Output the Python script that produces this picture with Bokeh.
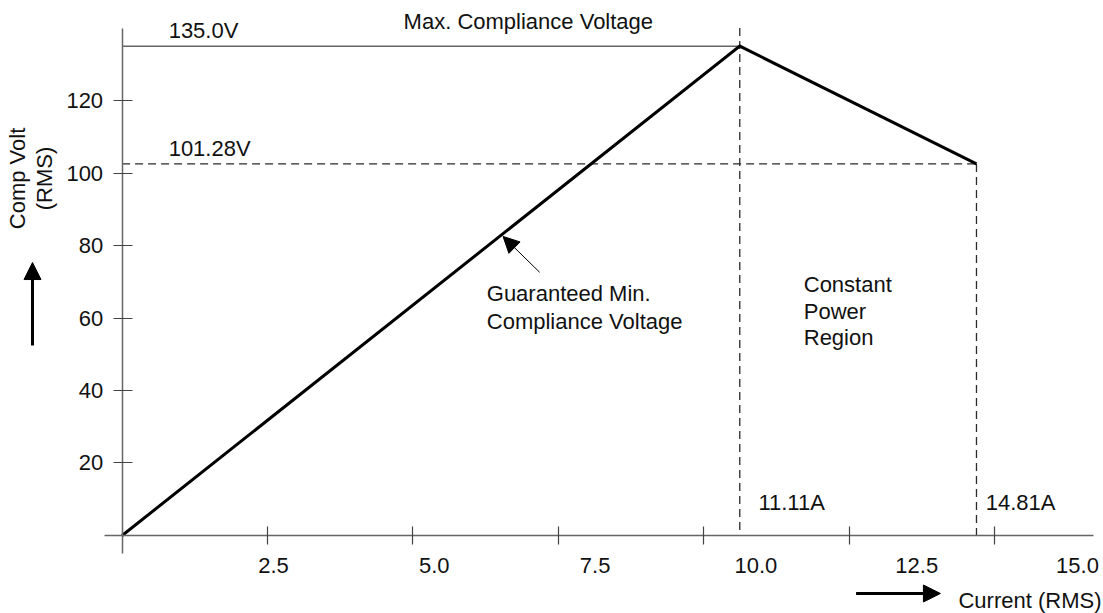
import math
from bokeh.plotting import figure
from bokeh.models import (LinearAxis, FixedTicker, Range1d,
                          CustomJSTickFormatter, Arrow, NormalHead)
from bokeh.core.properties import value
from bokeh.embed import file_html
from bokeh.resources import INLINE

# ---- data (in axis units) ----
current = [0.0, 10.62, 14.69]        # Current (RMS), as drawn
voltage = [0.0, 135.0, 102.5]        # Comp Volt (RMS), as drawn
x_ticks = [2.5, 5.0, 7.5, 10.0, 12.5, 15.0]
y_ticks = [20, 40, 60, 80, 100, 120]
v_max_label = "135.0V"
v_end_label = "101.28V"
i_peak_label = "11.11A"
i_end_label = "14.81A"
y_axis_top = 140.0

FONT = "Liberation Sans"
FS = "22px"
AX = "#666666"
DASH_C = "#2a2a2a"
TXT = "#111111"

p = figure(width=1103, height=613, output_backend="svg", toolbar_location=None,
           x_axis_type=None, y_axis_type=None, min_border=0,
           x_range=Range1d(-2.091, 16.874), y_range=Range1d(-21.52, 147.59))
p.title.visible = False
p.outline_line_color = None
p.background_fill_color = "white"
p.border_fill_color = "white"

# y axis (at x = 0)
yax = LinearAxis(fixed_location=0, ticker=FixedTicker(ticks=y_ticks), bounds=(-5, y_axis_top),
                 axis_line_color=AX, axis_line_width=1.5,
                 major_tick_line_color="#444444", major_tick_line_width=1.2,
                 major_tick_in=10, major_tick_out=9, minor_tick_line_color=None,
                 major_label_text_font=FONT, major_label_text_font_size=FS,
                 major_label_text_color=TXT, major_label_standoff=10)
p.add_layout(yax, "left")

# x axis tick marks (at y = 0)
xax = LinearAxis(fixed_location=0, ticker=FixedTicker(ticks=x_ticks), bounds=(-0.303, 16.70),
                 formatter=CustomJSTickFormatter(code="return ''"),
                 axis_line_color=AX, axis_line_width=1.5,
                 major_tick_line_color="#444444", major_tick_line_width=1.2,
                 major_tick_in=9, major_tick_out=9, minor_tick_line_color=None)
p.add_layout(xax, "below")

# x tick labels (spaced a little wider than the tick marks, as in the drawing)
p.extra_x_ranges = {"lbl": Range1d(-1.744, 15.404)}
xlab = LinearAxis(x_range_name="lbl", fixed_location=0, ticker=FixedTicker(ticks=x_ticks),
                  formatter=CustomJSTickFormatter(code="return tick.toFixed(1)"),
                  axis_line_color=None, major_tick_line_color=None,
                  major_tick_in=0, major_tick_out=0, minor_tick_line_color=None,
                  major_label_text_font=FONT, major_label_text_font_size=FS,
                  major_label_text_color=TXT, major_label_standoff=23)
p.add_layout(xlab, "below")

peak_i, peak_v = current[1], voltage[1]
end_i, end_v = current[2], voltage[2]

# reference lines
p.line([0, peak_i], [peak_v, peak_v], line_color=AX, line_width=1.5)
p.line([0, end_i], [end_v, end_v], line_color=DASH_C, line_width=1.3, line_dash="8 5")
p.line([peak_i, peak_i], [y_axis_top, 0], line_color=DASH_C, line_width=1.3, line_dash="8 5")
p.line([end_i, end_i], [end_v, 0], line_color=DASH_C, line_width=1.3, line_dash="8 5")

# the curve
p.line(current, voltage, line_color="black", line_width=3, line_join="miter")

# texts
common = dict(text_font=value(FONT), text_font_size=FS, text_color=TXT)
p.text(x=[4.84], y=[141.9], text=["Max. Compliance Voltage"],
       text_align="left", text_baseline="alphabetic", **common)
p.text(x=[0.80, 0.80], y=[139.3, 106.8], text=[v_max_label, v_end_label],
       text_align="left", text_baseline="alphabetic", **common)
p.text(x=[10.94, 14.85], y=[9.2, 9.2], text=[i_peak_label, i_end_label],
       text_align="left", text_baseline="alphabetic", **common)
p.text(x=[6.27], y=[70.3], text=["Guaranteed Min.\nCompliance Voltage"],
       text_align="left", text_baseline="top", text_line_height=1.12, **common)
p.text(x=[11.72], y=[72.6], text=["Constant\nPower\nRegion"],
       text_align="left", text_baseline="top", text_line_height=1.05, **common)
p.text(x=[-1.566], y=[98.5], text=["Comp Volt\n(RMS)"], angle=[math.pi / 2],
       text_align="center", text_baseline="middle", text_line_height=1.05, **common)
p.text(x=[14.38], y=[-17.9], text=["Current (RMS)"],
       text_align="left", text_baseline="alphabetic", **common)

# arrows
p.add_layout(Arrow(end=NormalHead(size=17, fill_color="black", line_color="black", line_width=1),
                   x_start=-1.541, y_start=52.4, x_end=-1.541, y_end=75.3,
                   line_width=3, line_color="black"))
p.add_layout(Arrow(end=NormalHead(size=17, fill_color="black", line_color="black", line_width=1),
                   x_start=12.62, y_start=-16.0, x_end=14.07, y_end=-16.0,
                   line_width=3, line_color="black"))
p.add_layout(Arrow(end=NormalHead(size=16, fill_color="black", line_color="black", line_width=1),
                   x_start=7.18, y_start=72.6, x_end=6.55, y_end=82.5,
                   line_width=1, line_color="black"))

open("out.html", "w").write(file_html(p, INLINE))
